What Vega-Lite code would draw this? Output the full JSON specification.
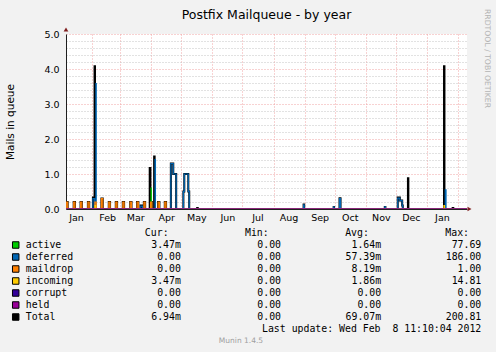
{
  "$schema": "https://vega.github.io/schema/vega-lite/v6.json",
  "background": "#f2f2f2",
  "padding": {"left": 5, "top": 8, "right": 0, "bottom": 8},
  "bounds": "flush",
  "spacing": 24,
  "config": {"view": {"stroke": null}, "font": "DejaVu Sans"},
  "datasets": {
    "series": [
      {"s":"Total","t":"2011-01-06T00:00","v":0},{"s":"Total","t":"2011-01-06T08:00","v":0.2},{"s":"Total","t":"2011-01-07T16:00","v":0},
      {"s":"Total","t":"2011-01-13T16:00","v":0.2},{"s":"Total","t":"2011-01-14T23:00","v":0},
      {"s":"Total","t":"2011-01-20T13:00","v":0.2},{"s":"Total","t":"2011-01-21T20:00","v":0},
      {"s":"Total","t":"2011-01-27T20:00","v":0.2},{"s":"Total","t":"2011-01-29T04:00","v":0},
      {"s":"Total","t":"2011-02-01T20:00","v":0.33},{"s":"Total","t":"2011-02-03T12:00","v":4.08},{"s":"Total","t":"2011-02-03T22:00","v":0},
      {"s":"Total","t":"2011-02-10T08:00","v":0.3},{"s":"Total","t":"2011-02-11T16:00","v":0},
      {"s":"Total","t":"2011-02-17T16:00","v":0.2},{"s":"Total","t":"2011-02-18T23:00","v":0},
      {"s":"Total","t":"2011-02-24T16:00","v":0.2},{"s":"Total","t":"2011-02-25T23:00","v":0},
      {"s":"Total","t":"2011-03-03T16:00","v":0.2},{"s":"Total","t":"2011-03-04T23:00","v":0},
      {"s":"Total","t":"2011-03-11T01:00","v":0.2},{"s":"Total","t":"2011-03-12T08:00","v":0},
      {"s":"Total","t":"2011-03-17T20:00","v":0.2},{"s":"Total","t":"2011-03-19T04:00","v":0},
      {"s":"Total","t":"2011-03-21T14:00","v":0.1},{"s":"Total","t":"2011-03-23T10:00","v":0},
      {"s":"Total","t":"2011-03-24T16:00","v":0.2},{"s":"Total","t":"2011-03-25T23:00","v":0},
      {"s":"Total","t":"2011-03-30T12:00","v":1.17},{"s":"Total","t":"2011-03-31T05:00","v":0.2},{"s":"Total","t":"2011-04-01T16:00","v":0},
      {"s":"Total","t":"2011-04-03T22:00","v":1.5},{"s":"Total","t":"2011-04-04T10:00","v":0},
      {"s":"Total","t":"2011-04-07T20:00","v":0.2},{"s":"Total","t":"2011-04-09T04:00","v":0},
      {"s":"Total","t":"2011-04-14T13:00","v":0.2},{"s":"Total","t":"2011-04-15T20:00","v":0},
      {"s":"Total","t":"2011-04-20T14:00","v":1.3},{"s":"Total","t":"2011-04-23T00:00","v":1.0},{"s":"Total","t":"2011-04-25T22:00","v":0},
      {"s":"Total","t":"2011-05-03T02:00","v":0.5},{"s":"Total","t":"2011-05-04T00:00","v":1.0},{"s":"Total","t":"2011-05-08T00:00","v":0.5},{"s":"Total","t":"2011-05-08T22:00","v":0},
      {"s":"Total","t":"2011-05-16T20:00","v":0.03},{"s":"Total","t":"2011-05-17T10:00","v":0},
      {"s":"Total","t":"2011-08-31T00:00","v":0.13},{"s":"Total","t":"2011-08-31T14:00","v":0},
      {"s":"Total","t":"2011-09-30T00:00","v":0.06},{"s":"Total","t":"2011-09-30T10:00","v":0},
      {"s":"Total","t":"2011-10-05T20:00","v":0.31},{"s":"Total","t":"2011-10-06T20:00","v":0},
      {"s":"Total","t":"2011-11-20T00:00","v":0.06},{"s":"Total","t":"2011-11-20T14:00","v":0},
      {"s":"Total","t":"2011-12-02T22:00","v":0.33},{"s":"Total","t":"2011-12-05T00:00","v":0.24},{"s":"Total","t":"2011-12-07T08:00","v":0.1},{"s":"Total","t":"2011-12-07T22:00","v":0},
      {"s":"Total","t":"2011-12-13T02:00","v":0.88},{"s":"Total","t":"2011-12-13T12:00","v":0},
      {"s":"Total","t":"2012-01-18T02:00","v":4.08},{"s":"Total","t":"2012-01-18T12:00","v":0},
      {"s":"Total","t":"2012-01-26T16:00","v":0.03},{"s":"Total","t":"2012-01-27T08:00","v":0},
      {"s":"Total","t":"2012-02-10T00:00","v":0},
      {"s":"active","t":"2011-01-06T00:00","v":0},{"s":"active","t":"2011-03-31T22:00","v":0.6},{"s":"active","t":"2011-04-01T02:00","v":0},{"s":"active","t":"2012-02-10T00:00","v":0},
      {"s":"deferred","t":"2011-01-06T00:00","v":0},{"s":"deferred","t":"2011-02-01T20:00","v":0.3},{"s":"deferred","t":"2011-02-03T12:00","v":0},
      {"s":"deferred","t":"2011-02-04T20:00","v":3.58},{"s":"deferred","t":"2011-02-05T04:00","v":0},
      {"s":"deferred","t":"2011-03-11T07:00","v":0.1},{"s":"deferred","t":"2011-03-12T00:00","v":0},
      {"s":"deferred","t":"2011-03-21T14:00","v":0.08},{"s":"deferred","t":"2011-03-23T10:00","v":0},
      {"s":"deferred","t":"2011-04-04T19:00","v":1.41},{"s":"deferred","t":"2011-04-05T05:00","v":0},
      {"s":"deferred","t":"2011-04-20T14:00","v":1.3},{"s":"deferred","t":"2011-04-23T00:00","v":1.0},{"s":"deferred","t":"2011-04-25T22:00","v":0},
      {"s":"deferred","t":"2011-05-03T02:00","v":0.5},{"s":"deferred","t":"2011-05-04T00:00","v":1.0},{"s":"deferred","t":"2011-05-08T00:00","v":0.5},{"s":"deferred","t":"2011-05-08T22:00","v":0},
      {"s":"deferred","t":"2011-08-31T00:00","v":0.12},{"s":"deferred","t":"2011-08-31T14:00","v":0},
      {"s":"deferred","t":"2011-09-30T00:00","v":0.06},{"s":"deferred","t":"2011-09-30T10:00","v":0},
      {"s":"deferred","t":"2011-10-05T20:00","v":0.3},{"s":"deferred","t":"2011-10-06T20:00","v":0},
      {"s":"deferred","t":"2011-11-20T00:00","v":0.06},{"s":"deferred","t":"2011-11-20T14:00","v":0},
      {"s":"deferred","t":"2011-12-02T22:00","v":0.31},{"s":"deferred","t":"2011-12-05T00:00","v":0.24},{"s":"deferred","t":"2011-12-07T08:00","v":0.1},{"s":"deferred","t":"2011-12-07T22:00","v":0},
      {"s":"deferred","t":"2012-01-19T07:00","v":0.55},{"s":"deferred","t":"2012-01-20T02:00","v":0},
      {"s":"deferred","t":"2012-02-10T00:00","v":0},
      {"s":"maildrop","t":"2011-01-06T00:00","v":0},{"s":"maildrop","t":"2011-01-06T08:00","v":0.2},{"s":"maildrop","t":"2011-01-07T16:00","v":0},
      {"s":"maildrop","t":"2011-01-13T16:00","v":0.2},{"s":"maildrop","t":"2011-01-14T23:00","v":0},
      {"s":"maildrop","t":"2011-01-20T13:00","v":0.2},{"s":"maildrop","t":"2011-01-21T20:00","v":0},
      {"s":"maildrop","t":"2011-01-27T20:00","v":0.2},{"s":"maildrop","t":"2011-01-29T04:00","v":0},
      {"s":"maildrop","t":"2011-02-03T20:00","v":0.2},{"s":"maildrop","t":"2011-02-05T04:00","v":0},
      {"s":"maildrop","t":"2011-02-10T08:00","v":0.3},{"s":"maildrop","t":"2011-02-11T16:00","v":0},
      {"s":"maildrop","t":"2011-02-17T16:00","v":0.2},{"s":"maildrop","t":"2011-02-18T23:00","v":0},
      {"s":"maildrop","t":"2011-02-24T16:00","v":0.2},{"s":"maildrop","t":"2011-02-25T23:00","v":0},
      {"s":"maildrop","t":"2011-03-03T16:00","v":0.2},{"s":"maildrop","t":"2011-03-04T23:00","v":0},
      {"s":"maildrop","t":"2011-03-11T01:00","v":0.2},{"s":"maildrop","t":"2011-03-12T08:00","v":0},
      {"s":"maildrop","t":"2011-03-17T20:00","v":0.2},{"s":"maildrop","t":"2011-03-19T04:00","v":0},
      {"s":"maildrop","t":"2011-03-24T16:00","v":0.2},{"s":"maildrop","t":"2011-03-25T23:00","v":0},
      {"s":"maildrop","t":"2011-03-31T08:00","v":0.2},{"s":"maildrop","t":"2011-04-01T16:00","v":0},
      {"s":"maildrop","t":"2011-04-07T20:00","v":0.2},{"s":"maildrop","t":"2011-04-09T04:00","v":0},
      {"s":"maildrop","t":"2011-04-14T13:00","v":0.2},{"s":"maildrop","t":"2011-04-15T20:00","v":0},
      {"s":"maildrop","t":"2012-02-10T00:00","v":0},
      {"s":"incoming","t":"2011-01-06T00:00","v":0},{"s":"incoming","t":"2011-02-04T00:00","v":0.1},{"s":"incoming","t":"2011-02-04T14:00","v":0},{"s":"incoming","t":"2012-01-18T00:00","v":0.1},{"s":"incoming","t":"2012-01-18T14:00","v":0},{"s":"incoming","t":"2012-02-10T00:00","v":0},
      {"s":"corrupt","t":"2011-01-06T00:00","v":0},{"s":"corrupt","t":"2012-02-10T00:00","v":0},
      {"s":"held","t":"2011-01-06T00:00","v":0},{"s":"held","t":"2012-02-10T00:00","v":0}
    ],
    "legend": [
      {"s":"active","Cur":"3.47m","Min":"0.00\u00a0","Avg":"1.64m","Max":"77.69\u00a0"},
      {"s":"deferred","Cur":"0.00\u00a0","Min":"0.00\u00a0","Avg":"57.39m","Max":"186.00\u00a0"},
      {"s":"maildrop","Cur":"0.00\u00a0","Min":"0.00\u00a0","Avg":"8.19m","Max":"1.00\u00a0"},
      {"s":"incoming","Cur":"3.47m","Min":"0.00\u00a0","Avg":"1.86m","Max":"14.81\u00a0"},
      {"s":"corrupt","Cur":"0.00\u00a0","Min":"0.00\u00a0","Avg":"0.00\u00a0","Max":"0.00\u00a0"},
      {"s":"held","Cur":"0.00\u00a0","Min":"0.00\u00a0","Avg":"0.00\u00a0","Max":"0.00\u00a0"},
      {"s":"Total","Cur":"6.94m","Min":"0.00\u00a0","Avg":"69.07m","Max":"200.81\u00a0"}
    ]
  },
  "vconcat": [
    {
      "width": 401,
      "height": 175,
      "view": {"fill": "#ffffff", "stroke": null},
      "resolve": {"axis": {"x": "independent", "y": "independent"}},
      "layer": [
        {
          "data": {"name": "series"},
          "transform": [{"filter": "datum.s === 'Total'"}],
          "mark": {"type": "line", "interpolate": "step-after", "color": "#000000", "strokeWidth": 2, "clip": true},
          "encoding": {
            "x": {"field": "t", "type": "temporal", "scale": {"domain": [{"year": 2011, "month": 1, "date": 6}, {"year": 2012, "month": 2, "date": 10}]},
              "axis": {"orient": "bottom", "values": [{"year":2011,"month":2,"date":1},{"year":2011,"month":3,"date":1},{"year":2011,"month":4,"date":1},{"year":2011,"month":5,"date":1},{"year":2011,"month":6,"date":1},{"year":2011,"month":7,"date":1},{"year":2011,"month":8,"date":1},{"year":2011,"month":9,"date":1},{"year":2011,"month":10,"date":1},{"year":2011,"month":11,"date":1},{"year":2011,"month":12,"date":1},{"year":2012,"month":1,"date":1},{"year":2012,"month":2,"date":1}],
                "labels": false, "ticks": false, "domain": true, "domainColor": "#1f1f1f", "domainWidth": 1, "grid": true, "gridColor": "#f0a4a4", "gridDash": [1, 2], "gridWidth": 1, "title": null}},
            "y": {"field": "v", "type": "quantitative", "scale": {"domain": [0, 5], "nice": false},
              "axis": {"orient": "left", "values": [0,0.2,0.4,0.6,0.8,1,1.2,1.4,1.6,1.8,2,2.2,2.4,2.6,2.8,3,3.2,3.4,3.6,3.8,4,4.2,4.4,4.6,4.8,5],
                "grid": true, "gridColor": {"condition": {"test": "datum.value % 1 === 0", "value": "#f0a4a4"}, "value": "#c4c4c4"}, "gridDash": [1, 2], "gridWidth": 1,
                "ticks": false, "labelExpr": "datum.value % 1 === 0 ? format(datum.value, '.1f') : ''", "labelOverlap": false, "labelFont": "DejaVu Sans", "labelFontSize": 9.5, "labelColor": "#000000", "labelPadding": 7,
                "domain": true, "domainColor": "#1f1f1f", "domainWidth": 1,
                "title": "Mails in queue", "titleFont": "DejaVu Sans", "titleFontSize": 10.5, "titleFontWeight": "normal", "titleColor": "#000000", "titlePadding": 28}}
          }
        },
        {
          "data": {"name": "series"},
          "transform": [{"filter": "datum.s === 'active'"}],
          "mark": {"type": "line", "interpolate": "step-after", "color": "#00cc00", "strokeWidth": 1.2, "clip": true},
          "encoding": {
            "x": {"field": "t", "type": "temporal", "scale": {"domain": [{"year": 2011, "month": 1, "date": 6}, {"year": 2012, "month": 2, "date": 10}]}, "axis": null},
            "y": {"field": "v", "type": "quantitative", "scale": {"domain": [0, 5], "nice": false}, "axis": null}
          }
        },
        {
          "data": {"name": "series"},
          "transform": [{"filter": "datum.s === 'deferred'"}],
          "mark": {"type": "line", "interpolate": "step-after", "color": "#0066b3", "strokeWidth": 1.2, "clip": true},
          "encoding": {
            "x": {"field": "t", "type": "temporal", "scale": {"domain": [{"year": 2011, "month": 1, "date": 6}, {"year": 2012, "month": 2, "date": 10}]}, "axis": null},
            "y": {"field": "v", "type": "quantitative", "scale": {"domain": [0, 5], "nice": false}, "axis": null}
          }
        },
        {
          "data": {"name": "series"},
          "transform": [{"filter": "datum.s === 'maildrop'"}],
          "mark": {"type": "line", "interpolate": "step-after", "color": "#ff8000", "strokeWidth": 1.2, "clip": true},
          "encoding": {
            "x": {"field": "t", "type": "temporal", "scale": {"domain": [{"year": 2011, "month": 1, "date": 6}, {"year": 2012, "month": 2, "date": 10}]}, "axis": null},
            "y": {"field": "v", "type": "quantitative", "scale": {"domain": [0, 5], "nice": false}, "axis": null}
          }
        },
        {
          "data": {"name": "series"},
          "transform": [{"filter": "datum.s === 'incoming'"}],
          "mark": {"type": "line", "interpolate": "step-after", "color": "#ffcc00", "strokeWidth": 1.2, "clip": true},
          "encoding": {
            "x": {"field": "t", "type": "temporal", "scale": {"domain": [{"year": 2011, "month": 1, "date": 6}, {"year": 2012, "month": 2, "date": 10}]}, "axis": null},
            "y": {"field": "v", "type": "quantitative", "scale": {"domain": [0, 5], "nice": false}, "axis": null}
          }
        },
        {
          "data": {"name": "series"},
          "transform": [{"filter": "datum.s === 'corrupt'"}],
          "mark": {"type": "line", "interpolate": "step-after", "color": "#330099", "strokeWidth": 1.2, "clip": true},
          "encoding": {
            "x": {"field": "t", "type": "temporal", "scale": {"domain": [{"year": 2011, "month": 1, "date": 6}, {"year": 2012, "month": 2, "date": 10}]}, "axis": null},
            "y": {"field": "v", "type": "quantitative", "scale": {"domain": [0, 5], "nice": false}, "axis": null}
          }
        },
        {
          "data": {"name": "series"},
          "transform": [{"filter": "datum.s === 'held'"}],
          "mark": {"type": "line", "interpolate": "step-after", "color": "#990099", "strokeWidth": 1.2, "clip": true},
          "encoding": {
            "x": {"field": "t", "type": "temporal", "scale": {"domain": [{"year": 2011, "month": 1, "date": 6}, {"year": 2012, "month": 2, "date": 10}]}, "axis": null},
            "y": {"field": "v", "type": "quantitative", "scale": {"domain": [0, 5], "nice": false}, "axis": null}
          }
        },
        {
          "data": {"values": [{"arrow": "y"}]},
          "mark": {"type": "point", "shape": "triangle-up", "filled": true, "color": "#801f1f", "opacity": 1, "size": 22, "yOffset": -4.5},
          "encoding": {
            "x": {"datum": {"year": 2011, "month": 1, "date": 6}, "type": "temporal", "scale": {"domain": [{"year": 2011, "month": 1, "date": 6}, {"year": 2012, "month": 2, "date": 10}]},
              "axis": {"orient": "bottom", "values": [{"year":2011,"month":1,"date":16},{"year":2011,"month":2,"date":16},{"year":2011,"month":3,"date":16},{"year":2011,"month":4,"date":16},{"year":2011,"month":5,"date":16},{"year":2011,"month":6,"date":16},{"year":2011,"month":7,"date":16},{"year":2011,"month":8,"date":16},{"year":2011,"month":9,"date":16},{"year":2011,"month":10,"date":16},{"year":2011,"month":11,"date":16},{"year":2011,"month":12,"date":16},{"year":2012,"month":1,"date":16}],
                "format": "%b", "labelFont": "DejaVu Sans", "labelFontSize": 9.5, "labelColor": "#000000", "labelPadding": 3, "labelFlush": false, "labelOverlap": false, "ticks": false, "domain": false, "grid": false, "title": null}},
            "y": {"datum": 5, "type": "quantitative", "scale": {"domain": [0, 5], "nice": false}, "axis": null}
          }
        },
        {
          "data": {"values": [{"arrow": "x"}]},
          "mark": {"type": "point", "shape": "triangle-right", "filled": true, "color": "#801f1f", "opacity": 1, "size": 22, "xOffset": 2.5},
          "encoding": {
            "x": {"datum": {"year": 2012, "month": 2, "date": 10}, "type": "temporal", "scale": {"domain": [{"year": 2011, "month": 1, "date": 6}, {"year": 2012, "month": 2, "date": 10}]}, "axis": null},
            "y": {"datum": 0, "type": "quantitative", "scale": {"domain": [0, 5], "nice": false}, "axis": null}
          }
        },
        {
          "data": {"values": [{"label": "RRDTOOL / TOBI OETIKER"}]},
          "mark": {"type": "text", "angle": 90, "align": "left", "baseline": "bottom", "font": "DejaVu Sans", "fontSize": 7.7, "color": "#b4b4b4", "xOffset": 16, "yOffset": -25},
          "encoding": {
            "x": {"datum": {"year": 2012, "month": 2, "date": 10}, "type": "temporal", "scale": {"domain": [{"year": 2011, "month": 1, "date": 6}, {"year": 2012, "month": 2, "date": 10}]}, "axis": null},
            "y": {"datum": 5, "type": "quantitative", "scale": {"domain": [0, 5], "nice": false}, "axis": null},
            "text": {"field": "label"}
          }
        },
        {
          "data": {"values": [{"label": "Postfix Mailqueue - by year"}]},
          "mark": {"type": "text", "align": "center", "baseline": "alphabetic", "font": "DejaVu Sans", "fontSize": 12.5, "color": "#000000", "yOffset": -15.5},
          "encoding": {
            "y": {"datum": 5, "type": "quantitative", "scale": {"domain": [0, 5], "nice": false}, "axis": null},
            "text": {"field": "label"}
          }
        }
      ]
    },
    {
      "width": 430,
      "height": 108,
      "view": {"stroke": null},
      "layer": [
        {
          "data": {"name": "legend"},
          "mark": {"type": "point", "shape": "square", "filled": true, "size": 42, "stroke": "#000000", "strokeWidth": 1, "opacity": 1, "xOffset": -65},
          "encoding": {
            "x": {"datum": "name", "type": "ordinal", "scale": {"type": "point", "domain": ["name", "Cur", "Min", "Avg", "Max"], "padding": 0.147}, "axis": null},
            "y": {"field": "s", "type": "ordinal", "scale": {"type": "point", "domain": ["header", "active", "deferred", "maildrop", "incoming", "corrupt", "held", "Total", "update", "munin"], "padding": 0}, "axis": null},
            "fill": {"field": "s", "type": "nominal", "scale": {"domain": ["active", "deferred", "maildrop", "incoming", "corrupt", "held", "Total"], "range": ["#00cc00", "#0066b3", "#ff8000", "#ffcc00", "#330099", "#990099", "#000000"]}, "legend": null}
          }
        },
        {
          "data": {"name": "legend"},
          "mark": {"type": "text", "align": "left", "dx": -55, "font": "DejaVu Sans Mono", "fontSize": 9.85, "color": "#000000"},
          "encoding": {
            "x": {"datum": "name", "type": "ordinal", "scale": {"type": "point", "domain": ["name", "Cur", "Min", "Avg", "Max"], "padding": 0.147}, "axis": null},
            "y": {"field": "s", "type": "ordinal", "scale": {"type": "point", "domain": ["header", "active", "deferred", "maildrop", "incoming", "corrupt", "held", "Total", "update", "munin"], "padding": 0}, "axis": null},
            "text": {"field": "s"}
          }
        },
        {
          "data": {"name": "legend"},
          "transform": [{"fold": ["Cur", "Min", "Avg", "Max"], "as": ["col", "val"]}],
          "mark": {"type": "text", "align": "right", "font": "DejaVu Sans Mono", "fontSize": 9.85, "color": "#000000"},
          "encoding": {
            "x": {"field": "col", "type": "ordinal", "scale": {"type": "point", "domain": ["name", "Cur", "Min", "Avg", "Max"], "padding": 0.147}, "axis": null},
            "y": {"field": "s", "type": "ordinal", "scale": {"type": "point", "domain": ["header", "active", "deferred", "maildrop", "incoming", "corrupt", "held", "Total", "update", "munin"], "padding": 0}, "axis": null},
            "text": {"field": "val"}
          }
        },
        {
          "data": {"values": [{"col": "Cur", "label": "Cur:"}, {"col": "Min", "label": "Min:"}, {"col": "Avg", "label": "Avg:"}, {"col": "Max", "label": "Max:"}]},
          "mark": {"type": "text", "align": "left", "dx": -36, "font": "DejaVu Sans Mono", "fontSize": 9.85, "color": "#000000"},
          "encoding": {
            "x": {"field": "col", "type": "ordinal", "scale": {"type": "point", "domain": ["name", "Cur", "Min", "Avg", "Max"], "padding": 0.147}, "axis": null},
            "y": {"datum": "header", "type": "ordinal", "scale": {"type": "point", "domain": ["header", "active", "deferred", "maildrop", "incoming", "corrupt", "held", "Total", "update", "munin"], "padding": 0}, "axis": null},
            "text": {"field": "label"}
          }
        },
        {
          "data": {"values": [{"label": "Last update: Wed Feb\u00a0\u00a08 11:10:04 2012"}]},
          "mark": {"type": "text", "align": "right", "font": "DejaVu Sans Mono", "fontSize": 9.85, "color": "#000000"},
          "encoding": {
            "x": {"datum": "Max", "type": "ordinal", "scale": {"type": "point", "domain": ["name", "Cur", "Min", "Avg", "Max"], "padding": 0.147}, "axis": null},
            "y": {"datum": "update", "type": "ordinal", "scale": {"type": "point", "domain": ["header", "active", "deferred", "maildrop", "incoming", "corrupt", "held", "Total", "update", "munin"], "padding": 0}, "axis": null},
            "text": {"field": "label"}
          }
        },
        {
          "data": {"values": [{"label": "Munin 1.4.5"}]},
          "mark": {"type": "text", "align": "center", "dx": -40, "font": "DejaVu Sans", "fontSize": 7.5, "color": "#a0a0a0"},
          "encoding": {
            "x": {"datum": "Min", "type": "ordinal", "scale": {"type": "point", "domain": ["name", "Cur", "Min", "Avg", "Max"], "padding": 0.147}, "axis": null},
            "y": {"datum": "munin", "type": "ordinal", "scale": {"type": "point", "domain": ["header", "active", "deferred", "maildrop", "incoming", "corrupt", "held", "Total", "update", "munin"], "padding": 0}, "axis": null},
            "text": {"field": "label"}
          }
        }
      ]
    }
  ]
}
